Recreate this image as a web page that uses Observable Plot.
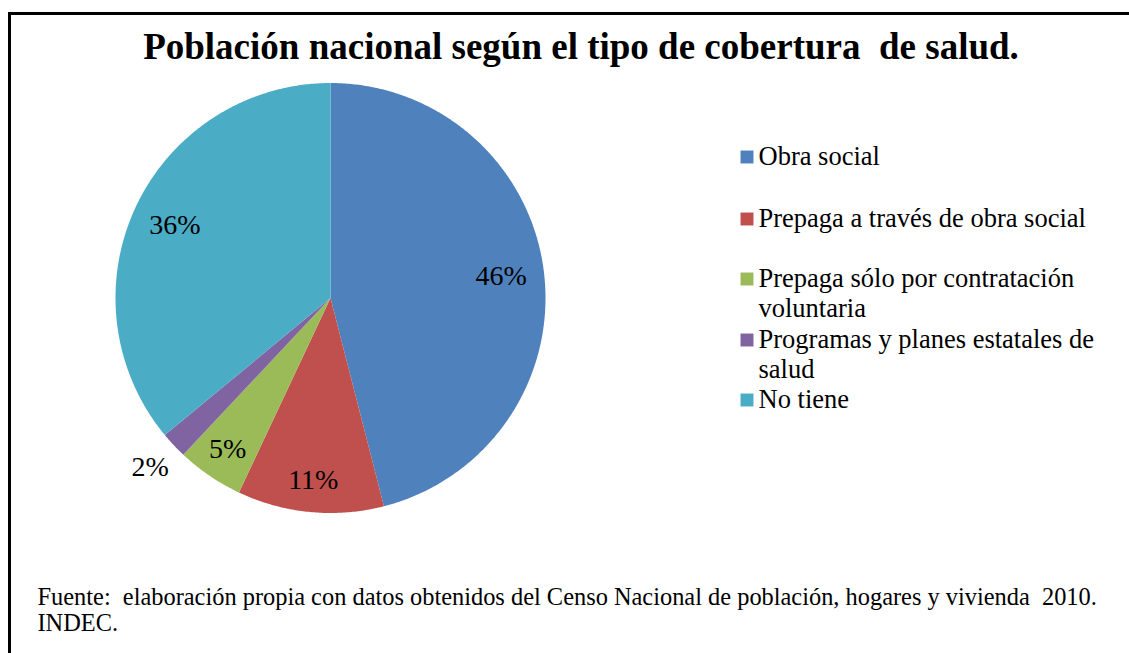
<!DOCTYPE html>
<html>
<head>
<meta charset="utf-8">
<script src="https://cdn.jsdelivr.net/npm/d3@7"></script>
<script src="https://cdn.jsdelivr.net/npm/@observablehq/plot@0.6"></script>
<style>
  html, body { margin: 0; padding: 0; background: #fff; overflow: hidden; }
  #wrap { position: relative; width: 1129px; height: 653px; }
  #frame { position: absolute; left: 8px; top: 12px; right: 0; bottom: 0;
           border-top: 3px solid #000; border-left: 3px solid #000; }
  #wrap svg { position: absolute; left: 0; top: 0; white-space: pre; }
</style>
</head>
<body>
<div id="wrap"><div id="frame"></div></div>
<script>
// ---- data ----
const categories = [
  "Obra social",
  "Prepaga a través de obra social",
  "Prepaga sólo por contratación voluntaria",
  "Programas y planes estatales de salud",
  "No tiene"
];
const values = [46, 11, 5, 2, 36];
const colors = ["#4F81BD", "#C0504D", "#9BBB59", "#8064A2", "#4BACC6"];
const title = "Población nacional según el tipo de cobertura  de salud.";
const captionLines = [
  "Fuente:  elaboración propia con datos obtenidos del Censo Nacional de población, hogares y vivienda  2010.",
  "INDEC."
];

// ---- layout ----
const W = 1129, H = 653;
const cx = 330, cy = 297.5, R = 215;
const FONT = '"Liberation Serif", "Times New Roman", Times, serif';
const legendX = 746.5, legendTextX = 758, legendWrap = 345, legendFont = 26.5, legendLine = 29.5;
const legendY = [156.5, 218.5, 278.5, 339.5, 399.5];

// pie geometry from the data
const arcs = d3.pie().sort(null).value((d, i) => values[i])(categories);
const piePts = [];
arcs.forEach((a, i) => {
  const cat = categories[i];
  piePts.push({cat, x: cx, y: cy});
  const n = Math.max(2, Math.ceil((a.endAngle - a.startAngle) / (Math.PI / 360)));
  for (let k = 0; k <= n; k++) {
    const t = a.startAngle + (a.endAngle - a.startAngle) * k / n;
    piePts.push({cat, x: cx + R * Math.sin(t), y: cy - R * Math.cos(t)});
  }
  piePts.push({cat, x: cx, y: cy});
});

const pieLabels = arcs.map((a, i) => {
  const m = (a.startAngle + a.endAngle) / 2;
  const f = values[i] < 3 ? 1.15 : (values[i] < 20 ? 0.85 : 0.8);
  return {text: values[i] + "%", x: cx + R * f * Math.sin(m), y: cy - R * f * Math.cos(m)};
});

// legend wrapping with real font metrics
const ctx = document.createElement("canvas").getContext("2d");
ctx.font = `${legendFont}px ${FONT}`;
function wrap(str, maxW) {
  const words = str.split(" ");
  const lines = [];
  let cur = "";
  for (const w of words) {
    const test = cur ? cur + " " + w : w;
    if (cur && ctx.measureText(test).width > maxW) { lines.push(cur); cur = w; }
    else cur = test;
  }
  if (cur) lines.push(cur);
  return lines;
}
const legendLines = [];
categories.forEach((c, i) => {
  wrap(c, legendWrap).forEach((ln, j) => legendLines.push({text: ln, y: legendY[i] + j * legendLine}));
});

const chart = Plot.plot({
  width: W, height: H, margin: 0,
  x: {domain: [0, W], range: [0, W], axis: null},
  y: {domain: [0, H], range: [0, H], axis: null},
  color: {domain: categories, range: colors},
  style: {fontFamily: FONT, background: "transparent", whiteSpace: "pre"},
  marks: [
    Plot.line(piePts, {x: "x", y: "y", z: "cat", fill: "cat", stroke: "none", curve: "linear"}),
    Plot.text(pieLabels, {x: "x", y: "y", text: "text", fontSize: 28, fill: "#000", fontFamily: FONT}),
    Plot.dot(categories, {x: () => legendX, y: (d, i) => legendY[i], symbol: "square", r: 7.3, fill: d => d, stroke: "none"}),
    Plot.text(legendLines, {x: () => legendTextX, y: "y", text: "text", textAnchor: "start", fontSize: legendFont, fill: "#000", fontFamily: FONT}),
    Plot.text([title], {x: () => 580.5, y: () => 46.2, text: d => d, fontSize: 37, fontWeight: "bold", fill: "#000", fontFamily: FONT}),
    Plot.text(captionLines, {x: () => 37, y: (d, i) => 596.6 + i * 26, text: d => d, textAnchor: "start", fontSize: 24.4, fill: "#000", fontFamily: FONT})
  ]
});
document.getElementById("wrap").appendChild(chart);
</script>
</body>
</html>
